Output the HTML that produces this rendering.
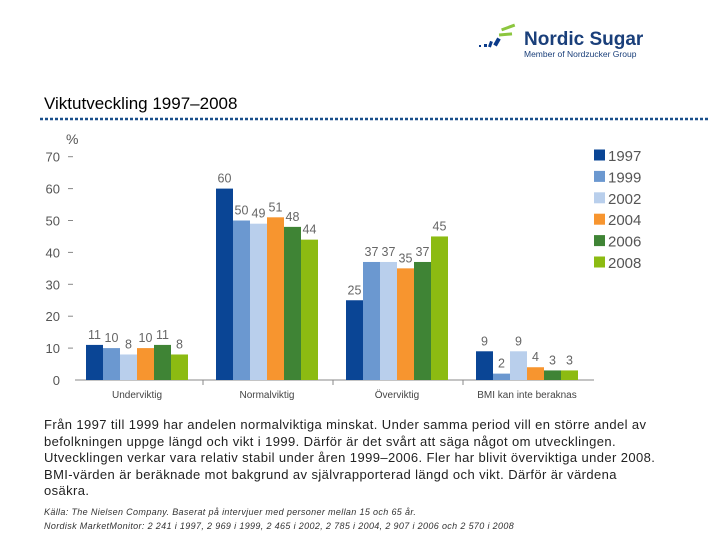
<!DOCTYPE html>
<html><head><meta charset="utf-8"><style>
body{margin:0;background:#fff;}
#wrap{position:relative;width:720px;height:540px;overflow:hidden;font-family:"Liberation Sans",sans-serif;}
</style></head><body>
<div id="wrap">
<svg width="720" height="540" style="position:absolute;left:0;top:0">
 <g>
  <rect x="501" y="26" width="14" height="3" fill="#8cc63f" transform="rotate(-20 508 27)"/>
  <rect x="499" y="33" width="13" height="3" fill="#8cc63f" transform="rotate(-5 505 34)"/>
  <rect x="495" y="38" width="4" height="8" fill="#0a3a8a" transform="rotate(30 497 42)"/>
  <rect x="489" y="41" width="3" height="6" fill="#0a3a8a" transform="rotate(20 490 44)"/>
  <rect x="484" y="44" width="3" height="3" fill="#0a3a8a"/>
  <rect x="479" y="45" width="2" height="2" fill="#0a3a8a"/>
  <text x="524" y="45" font-size="19" font-weight="bold" fill="#1a3f7a">Nordic Sugar</text>
  <text x="524" y="57" font-size="8.5" fill="#1a3f7a">Member of Nordzucker Group</text>
 </g>
 <text x="44" y="109" font-size="17" fill="#000">Viktutveckling 1997–2008</text>
 <line x1="40" y1="119" x2="708" y2="119" stroke="#1a4f8a" stroke-width="2.5" stroke-dasharray="3,2"/>
 <text x="66" y="144" font-size="14" fill="#555">%</text>
 <g id="axes"></g>
 <g id="bars"></g>
 <g id="legend"></g>
</svg>
<div style="position:absolute;left:44px;top:417px;font-size:13px;letter-spacing:0.4px;line-height:16.5px;color:#222;white-space:nowrap">Från 1997 till 1999 har andelen normalviktiga minskat. Under samma period vill en större andel av<br>befolkningen uppge längd och vikt i 1999. Därför är det svårt att säga något om utvecklingen.<br>Utvecklingen verkar vara relativ stabil under åren 1999–2006. Fler har blivit överviktiga under 2008.<br>BMI-värden är beräknade mot bakgrund av självrapporterad längd och vikt. Därför är värdena<br>osäkra.</div>
<div style="position:absolute;left:44px;top:505px;font-size:9px;letter-spacing:0.35px;line-height:14px;color:#333;font-style:italic;white-space:nowrap">Källa: The Nielsen Company. Baserat på intervjuer med personer mellan 15 och 65 år.<br>Nordisk MarketMonitor: 2 241 i 1997, 2 969 i 1999, 2 465 i 2002, 2 785 i 2004, 2 907 i 2006 och 2 570 i 2008</div>
</div>
<script>
const categories=["Underviktig","Normalviktig","Överviktig","BMI kan inte beraknas"];
const years=["1997","1999","2002","2004","2006","2008"];
const s1997=[11,60,25,9];
const s1999=[10,50,37,2];
const s2002=[8,49,37,9];
const s2004=[10,51,35,4];
const s2006=[11,48,37,3];
const s2008=[8,44,45,3];
const yTicks=[0,10,20,30,40,50,60,70];
const series=[s1997,s1999,s2002,s2004,s2006,s2008];
const colors=["#0a4595","#6b98d0","#b9cfec","#f7952f","#3f8435","#8cbb12"];
const NS="http://www.w3.org/2000/svg";
function yS(v){return 380-v*31.9/10;}
function xS(ci,si){return 86+ci*130+si*17;}
function mk(t,a,p){const e=document.createElementNS(NS,t);for(const k in a)e.setAttribute(k,a[k]);p.appendChild(e);return e;}
const ax=document.getElementById('axes'),bg=document.getElementById('bars'),lg=document.getElementById('legend');
yTicks.forEach(v=>{const t=mk('text',{x:60,y:yS(v)+5,'font-size':13,fill:'#555','text-anchor':'end'},ax);t.textContent=v;


if(v>0){const l=mk('line',{x1:68,x2:73,y1:yS(v),y2:yS(v),stroke:'#888'},ax);

}});
const base=mk('line',{x1:75,x2:594,y1:380,y2:380,stroke:'#888'},ax);


categories.forEach((c,ci)=>{const t=mk('text',{x:xS(ci,0)+51,y:398,'font-size':10,fill:'#444','text-anchor':'middle'},ax);t.textContent=c;


if(ci>0){const l=mk('line',{x1:xS(ci,0)-13,x2:xS(ci,0)-13,y1:380,y2:385,stroke:'#888'},ax);

}});
series.forEach((s,si)=>{s.forEach((v,ci)=>{const r=mk('rect',{x:xS(ci,si),y:yS(v),width:17,height:380-yS(v),fill:colors[si]},bg);


const t=mk('text',{x:xS(ci,si)+8.5,y:yS(v)-6,'font-size':12.5,fill:'#666','text-anchor':'middle'},bg);t.textContent=v;

});});
years.forEach((y,i)=>{const cy=155+i*21.4;const r=mk('rect',{x:594,y:cy-5.5,width:11,height:11,fill:colors[i]},lg);


const t=mk('text',{x:608,y:cy+6,'font-size':15,fill:'#555'},lg);t.textContent=y;

});
</script>
</body></html>
